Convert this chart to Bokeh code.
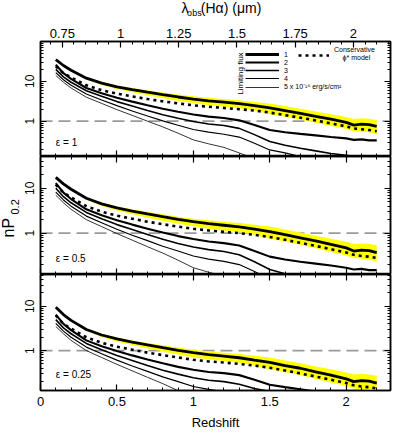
from math import pi
from bokeh.plotting import figure
from bokeh.layouts import column, row
from bokeh.models import (Range1d, LinearAxis, LogAxis, FixedTicker, BasicTickFormatter,
                          Span, Label, Legend, LegendItem)
from bokeh.embed import file_html
from bokeh.resources import INLINE

# ---------------- data ----------------
z = [0.1, 0.15, 0.2, 0.3, 0.4, 0.5, 0.6, 0.7, 0.8, 0.9, 1.0, 1.1, 1.2, 1.3, 1.4,
     1.5, 1.6, 1.7, 1.8, 1.9, 2.0, 2.05, 2.1, 2.15, 2.2]
band_z = [0.3, 0.4, 0.5, 0.6, 0.7, 0.8, 0.9, 1.0, 1.1, 1.2, 1.3, 1.4,
          1.5, 1.6, 1.7, 1.8, 1.9, 2.0, 2.05, 2.1, 2.15, 2.2]

# epsilon = 1
e1_f1 = [35, 25, 19, 12, 9.0, 7.3, 6.2, 5.35, 4.65, 4.05, 3.6, 3.25, 3.0, 2.75, 2.45,
         2.15, 1.85, 1.58, 1.33, 1.12, 0.93, 0.8, 0.84, 0.82, 0.74]
e1_cons = [24, 16, 12.5, 8.0, 6.0, 4.9, 4.2, 3.6, 3.15, 2.8, 2.5, 2.3, 2.15, 2.0, 1.85,
           1.65, 1.42, 1.22, 1.04, 0.88, 0.74, 0.66, 0.63, 0.6, 0.56]
e1_f2 = [26, 16, 11.5, 6.8, 5.0, 3.9, 3.1, 2.5, 2.05, 1.72, 1.47, 1.3, 1.2, 1.05, 0.8,
         0.6, 0.53, 0.48, 0.44, 0.4, 0.37, 0.34, 0.35, 0.33, 0.33]
e1_f3 = [20, 13, 9.5, 5.8, 4.2, 3.1, 2.4, 1.85, 1.45, 1.18, 0.98, 0.85, 0.78, 0.66, 0.46,
         0.31, 0.25, 0.21, 0.18, 0.155, 0.14, 0.13, 0.13, 0.12, 0.12]
e1_f4 = [16.5, 11, 8.0, 4.8, 3.4, 2.45, 1.8, 1.35, 1.02, 0.79, 0.62, 0.53, 0.47, 0.4, 0.28,
         0.19, 0.16, 0.13, 0.11, 0.095, 0.08, 0.075, 0.075, 0.07, 0.07]
e1_f5 = [14, 9.5, 6.8, 4.0, 2.8, 1.95, 1.4, 1.0, 0.72, 0.5, 0.34, 0.27, 0.22, 0.16, 0.115,
         0.09, 0.07, 0.06, 0.05, 0.045, 0.04, 0.04, 0.04, 0.035, 0.035]
e1_band_lo = [11.1, 8.1, 6.4, 5.3, 4.45, 3.8, 3.25, 2.85, 2.5, 2.3, 2.1, 1.85,
              1.5, 1.3, 1.1, 0.92, 0.77, 0.64, 0.56, 0.55, 0.53, 0.47]
e1_band_hi = [12.4, 9.6, 7.9, 6.8, 5.95, 5.25, 4.65, 4.2, 3.85, 3.6, 3.35, 3.05,
              2.8, 2.4, 2.05, 1.75, 1.5, 1.28, 1.14, 1.18, 1.16, 1.07]

# epsilon = 0.5
e2_f1 = [17.5, 12.5, 9.5, 6.0, 4.5, 3.65, 3.1, 2.68, 2.33, 2.03, 1.8, 1.63, 1.5, 1.38, 1.23,
         1.08, 0.93, 0.79, 0.67, 0.56, 0.47, 0.4, 0.42, 0.41, 0.37]
e2_cons = [12, 8, 6.3, 4.0, 3.0, 2.45, 2.1, 1.8, 1.58, 1.4, 1.25, 1.15, 1.07, 1.0, 0.92,
           0.82, 0.71, 0.61, 0.52, 0.44, 0.37, 0.33, 0.31, 0.3, 0.28]
e2_f2 = [13, 8, 5.75, 3.4, 2.5, 1.95, 1.55, 1.25, 1.03, 0.86, 0.74, 0.65, 0.6, 0.53, 0.4,
         0.3, 0.26, 0.23, 0.21, 0.19, 0.17, 0.155, 0.16, 0.15, 0.15]
e2_f3 = [10, 6.5, 4.75, 2.9, 2.1, 1.55, 1.2, 0.93, 0.73, 0.59, 0.49, 0.43, 0.39, 0.33, 0.23,
         0.155, 0.125, 0.105, 0.09, 0.078, 0.07, 0.065, 0.065, 0.06, 0.06]
e2_f4 = [8.2, 5.5, 4.0, 2.4, 1.7, 1.22, 0.9, 0.68, 0.51, 0.4, 0.31, 0.265, 0.235, 0.2, 0.14,
         0.095, 0.08, 0.065, 0.055, 0.048, 0.04, 0.038, 0.038, 0.035, 0.035]
e2_f5 = [7, 4.75, 3.4, 2.0, 1.4, 0.98, 0.7, 0.5, 0.36, 0.25, 0.17, 0.135, 0.11, 0.08, 0.058,
         0.045, 0.035, 0.03, 0.025, 0.022, 0.02, 0.02, 0.02, 0.018, 0.018]
e2_band_lo = [5.6, 4.05, 3.2, 2.65, 2.22, 1.9, 1.63, 1.42, 1.25, 1.15, 1.05, 0.92,
              0.75, 0.65, 0.55, 0.46, 0.38, 0.32, 0.28, 0.27, 0.26, 0.23]
e2_band_hi = [6.25, 4.8, 3.95, 3.4, 2.98, 2.63, 2.33, 2.1, 1.93, 1.8, 1.68, 1.53,
              1.4, 1.2, 1.03, 0.88, 0.75, 0.64, 0.57, 0.59, 0.58, 0.54]

# epsilon = 0.25
e3_f1 = [9.5, 6.5, 4.8, 3.0, 2.25, 1.83, 1.55, 1.34, 1.16, 1.01, 0.9, 0.81, 0.75, 0.69, 0.61,
         0.54, 0.46, 0.4, 0.33, 0.28, 0.23, 0.2, 0.21, 0.205, 0.185]
e3_cons = [6.2, 4.0, 3.15, 2.0, 1.5, 1.22, 1.05, 0.9, 0.79, 0.7, 0.62, 0.57, 0.54, 0.5, 0.46,
           0.41, 0.355, 0.305, 0.26, 0.22, 0.185, 0.165, 0.155, 0.15, 0.14]
e3_f2 = [6.5, 4.0, 2.9, 1.7, 1.25, 0.98, 0.78, 0.63, 0.52, 0.43, 0.37, 0.33, 0.31, 0.28, 0.22,
         0.17, 0.15, 0.135, 0.12, 0.105, 0.095, 0.09, 0.09, 0.085, 0.085]
e3_f3 = [5, 3.25, 2.4, 1.45, 1.05, 0.78, 0.6, 0.46, 0.36, 0.295, 0.245, 0.215, 0.2, 0.175, 0.14,
         0.12, 0.1, 0.085, 0.07, 0.06, 0.05, 0.045, 0.045, 0.04, 0.04]
e3_f4 = [4.1, 2.75, 2.0, 1.2, 0.85, 0.61, 0.45, 0.34, 0.255, 0.2, 0.155, 0.133, 0.118, 0.1, 0.07,
         0.048, 0.04, 0.033, 0.028, 0.024, 0.02, 0.02, 0.02, 0.018, 0.018]
e3_f5 = [3.5, 2.4, 1.7, 1.0, 0.7, 0.49, 0.35, 0.25, 0.18, 0.125, 0.085, 0.068, 0.055, 0.04, 0.03,
         0.023, 0.018, 0.015, 0.013, 0.011, 0.01, 0.01, 0.01, 0.009, 0.009]
e3_band_lo = [2.8, 2.03, 1.6, 1.33, 1.11, 0.95, 0.82, 0.71, 0.63, 0.58, 0.53, 0.46,
              0.38, 0.33, 0.28, 0.23, 0.19, 0.16, 0.14, 0.135, 0.13, 0.115]
e3_band_hi = [3.12, 2.4, 1.98, 1.7, 1.49, 1.32, 1.17, 1.05, 0.97, 0.9, 0.84, 0.77,
              0.7, 0.6, 0.52, 0.44, 0.38, 0.32, 0.29, 0.3, 0.29, 0.27]

eps_labels = ["\u03b5 = 1", "\u03b5 = 0.5", "\u03b5 = 0.25"]
flux_labels = ["1", "2", "3", "4", "5 x 10\u207b\u00b9\u2076 erg/s/cm\u00b2"]
x_major = [0, 0.5, 1, 1.5, 2]
lam_major = [0.75, 1, 1.25, 1.5, 1.75, 2]
y_major = [1, 10]
HALPHA_UM = 0.65628

# ---------------- styling ----------------
FONT = "Liberation Sans"
flux_widths = [2.8, 2.1, 1.6, 1.2, 0.8]
x_minor = [round(0.1 * i, 1) for i in range(0, 23) if i % 5]
lam_minor = [round(0.7 + 0.05 * i, 2) for i in range(0, 31)]
y_minor = [m * d for d in (0.1, 1, 10) for m in range(2, 10)]
ZMAX = 2.29


def style_axis(ax, ticker, labels, size="13px", standoff=6):
    ax.ticker = ticker
    ax.major_tick_in = 6
    ax.major_tick_out = 0
    ax.minor_tick_in = 3
    ax.minor_tick_out = 0
    ax.axis_line_width = 1.5
    ax.major_tick_line_width = 1.2
    ax.minor_tick_line_width = 1
    ax.major_label_text_font = FONT
    if labels:
        ax.major_label_text_color = "black"
        ax.major_label_text_font_size = size
        ax.major_label_standoff = standoff
    else:
        ax.major_label_text_alpha = 0
        ax.major_label_text_font_size = "1px"
        ax.major_label_standoff = 0
    ax.axis_label = None


def blank_fig(w, h, xr, yr):
    f = figure(width=w, height=h, x_range=Range1d(*xr), y_range=Range1d(*yr),
               min_border=0, output_backend="svg", toolbar_location=None,
               background_fill_color="white", border_fill_color="white")
    f.axis.visible = False
    f.grid.visible = False
    f.outline_line_color = None
    return f


def make_panel(ylo, yhi, fh, top_b, bot_b, first, last, data, eps_lab, eps_y):
    f1, cons, f2, f3, f4, f5, blo, bhi = data
    p = figure(x_range=Range1d(0, ZMAX), y_range=Range1d(ylo, yhi), y_axis_type="log",
               width=370, height=fh + top_b + bot_b,
               min_border_left=18, min_border_right=2,
               min_border_top=top_b, min_border_bottom=bot_b,
               output_backend="svg", toolbar_location=None,
               background_fill_color="white", border_fill_color="white")
    p.grid.visible = False
    p.outline_line_color = "black"
    p.outline_line_width = 1.5

    xt = FixedTicker(ticks=x_major, minor_ticks=x_minor)
    yt = FixedTicker(ticks=y_major, minor_ticks=y_minor)
    style_axis(p.xaxis[0], xt, last, "13px", 6)
    style_axis(p.yaxis[0], yt, True, "12px", 6)
    p.yaxis[0].formatter = BasicTickFormatter()
    p.yaxis[0].major_label_orientation = "vertical"
    if last:
        p.xaxis[0].axis_label = "Redshift"
        p.xaxis[0].axis_label_text_font = FONT
        p.xaxis[0].axis_label_text_font_size = "13px"
        p.xaxis[0].axis_label_text_font_style = "normal"
        p.xaxis[0].axis_label_text_color = "black"
        p.xaxis[0].axis_label_standoff = 6

    ra = LogAxis()
    style_axis(ra, FixedTicker(ticks=y_major, minor_ticks=y_minor), False)
    p.add_layout(ra, "right")

    if first:
        p.extra_x_ranges = {"lam": Range1d(HALPHA_UM * (1 + 0), HALPHA_UM * (1 + ZMAX))}
        ta = LinearAxis(x_range_name="lam")
        style_axis(ta, FixedTicker(ticks=lam_major, minor_ticks=lam_minor), True, "13px", 4)
        p.add_layout(ta, "above")
    else:
        ta = LinearAxis()
        style_axis(ta, FixedTicker(ticks=x_major, minor_ticks=x_minor), False)
        p.add_layout(ta, "above")

    p.varea(x=band_z, y1=blo, y2=bhi, fill_color="#FFFF00")
    p.add_layout(Span(location=1, dimension="width", line_color="#9a9a9a",
                      line_dash="12 6", line_width=1.8, level="underlay"))
    rends = []
    for ys, w in zip([f1, f2, f3, f4, f5], flux_widths):
        rends.append(p.line(z, ys, line_color="black", line_width=w))
    rc = p.line(z, cons, line_color="black", line_width=2.6, line_dash="3 4")

    p.add_layout(Label(x=0.1, y=eps_y, text=eps_lab, text_font=FONT, text_font_size="10px",
                       text_align="left", text_baseline="middle", text_color="black"))
    return p, rends, rc


p1, r1, rc1 = make_panel(0.13, 100, 115, 25, 0, True, False,
                         (e1_f1, e1_cons, e1_f2, e1_f3, e1_f4, e1_f5, e1_band_lo, e1_band_hi),
                         eps_labels[0], 0.30)
p2, r2, rc2 = make_panel(0.12, 51, 118, 0, 0, False, False,
                         (e2_f1, e2_cons, e2_f2, e2_f3, e2_f4, e2_f5, e2_band_lo, e2_band_hi),
                         eps_labels[1], 0.273)
p3, r3, rc3 = make_panel(0.126, 52, 116, 0, 42, False, True,
                         (e3_f1, e3_cons, e3_f2, e3_f3, e3_f4, e3_f5, e3_band_lo, e3_band_hi),
                         eps_labels[2], 0.282)

# legend (top panel)
leg = Legend(items=[LegendItem(label=lab, renderers=[r]) for lab, r in zip(flux_labels, r1)],
             location=(205, 65), orientation="vertical",
             label_text_font=FONT, label_text_font_size="7px", label_text_color="black",
             glyph_width=34, glyph_height=8, label_height=8, label_standoff=5,
             spacing=0, padding=0, margin=0, border_line_color=None,
             background_fill_alpha=0)
p1.add_layout(leg)
leg2 = Legend(items=[LegendItem(label="  ", renderers=[rc1])], location=(258, 97),
              label_text_font=FONT, label_text_font_size="7px", glyph_width=31, glyph_height=8,
              label_height=8, spacing=0, padding=0, margin=0, border_line_color=None,
              background_fill_alpha=0)
p1.add_layout(leg2)
p1.add_layout(Label(x=1.307, y=15.7, text="Limiting flux", angle=pi / 2, text_font=FONT,
                    text_font_size="8px", text_align="center", text_baseline="middle",
                    text_color="black"))
p1.add_layout(Label(x=2.054, y=64, text="Conservative", text_font=FONT, text_color="black",
                    text_font_size="7px", text_align="center", text_baseline="middle"))
p1.add_layout(Label(x=2.067, y=39.7, text="\u03d5* model", text_font=FONT, text_color="black",
                    text_font_size="7px", text_align="center", text_baseline="middle"))

# title strip above the top panel (coordinates are page pixels)
tfig = blank_fig(370, 16, (30, 400), (24, 8))
tfig.add_layout(Label(x=179, y=15.5, text="\u03bb", text_font=FONT, text_font_size="14px",
                      text_align="left", text_baseline="middle", text_color="black"))
tfig.add_layout(Label(x=185, y=20, text="obs", text_font=FONT, text_font_size="9px",
                      text_align="left", text_baseline="middle", text_color="black"))
tfig.add_layout(Label(x=199.5, y=15.5, text="(H\u03b1) (\u03bcm)", text_font=FONT,
                      text_font_size="14px", text_align="left", text_baseline="middle",
                      text_color="black"))

# y-axis title strip (coordinates are page pixels)
yfig = blank_fig(22, 440, (8, 30), (448, 8))
yfig.add_layout(Label(x=16, y=245, text="nP", angle=pi / 2, text_font=FONT,
                      text_font_size="16px", text_align="left", text_baseline="middle",
                      text_color="black"))
yfig.add_layout(Label(x=22, y=222, text="0.2", angle=pi / 2, text_font=FONT,
                      text_font_size="11px", text_align="left", text_baseline="middle",
                      text_color="black"))

layout = row(yfig, column(tfig, p1, p2, p3, spacing=0), spacing=0)
open("out.html", "w").write(file_html(layout, INLINE))
